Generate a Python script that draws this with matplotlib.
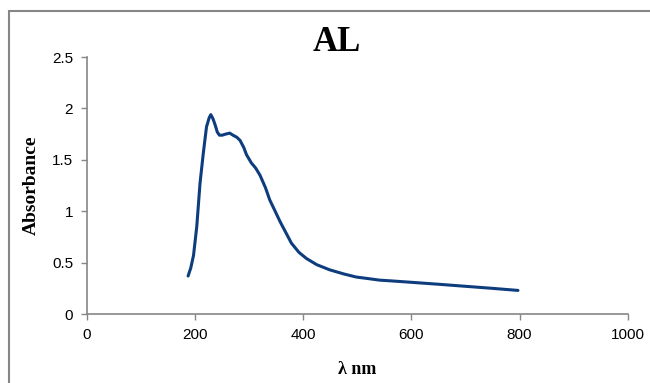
import matplotlib
matplotlib.use("Agg")
import matplotlib.pyplot as plt
from matplotlib.patches import Rectangle

# absorbance spectrum
wavelength = [187, 192, 197, 203, 209, 215, 221, 226, 229, 233, 237, 241, 245, 250,
              256, 264, 270, 277, 283, 290, 295, 304, 312, 320, 330, 338, 348, 357, 368,
              378, 392, 406, 425, 449, 475, 498, 520, 541, 570, 597, 650, 700, 750, 797]
absorbance = [0.37, 0.45, 0.57, 0.85, 1.27, 1.56, 1.82, 1.91, 1.94, 1.90, 1.84, 1.77, 1.74, 1.74,
              1.75, 1.76, 1.74, 1.72, 1.69, 1.62, 1.55, 1.47, 1.42, 1.35, 1.23, 1.11, 1.00, 0.90, 0.79,
              0.69, 0.60, 0.54, 0.48, 0.43, 0.39, 0.36, 0.345, 0.33, 0.32, 0.31, 0.29, 0.27, 0.25, 0.23]

xticks = [0, 200, 400, 600, 800, 1000]
yticks = [0, 0.5, 1, 1.5, 2, 2.5]
ytick_labels = ["0", "0.5", "1", "1.5", "2", "2.5"]

fig = plt.figure(figsize=(6.5, 3.83), dpi=100)
ax = fig.add_axes([0.1338, 0.180, 0.832, 0.671])

ax.plot(wavelength, absorbance, color="#0e3d7e", linewidth=2.2, solid_capstyle="round")

ax.set_xlim(0, 1000)
ax.set_ylim(0, 2.5)
ax.set_xticks(xticks)
ax.set_yticks(yticks)
ax.set_yticklabels(ytick_labels)

for side in ["top", "right"]:
    ax.spines[side].set_visible(False)
for side in ["left", "bottom"]:
    ax.spines[side].set_color("#868686")
    ax.spines[side].set_linewidth(1.2)

ax.tick_params(axis="both", direction="out", length=4, width=1, color="#868686",
               labelsize=11, pad=6)
for lbl in ax.get_xticklabels() + ax.get_yticklabels():
    lbl.set_fontfamily("Liberation Sans")

ax.set_xlabel("λ nm", fontfamily="Liberation Serif", fontweight="bold", fontsize=13, labelpad=14)
ax.set_ylabel("Absorbance", fontfamily="Liberation Serif", fontweight="bold", fontsize=14, labelpad=9)

fig.text(0.518, 0.89, "AL", fontfamily="Liberation Serif", fontweight="bold",
         fontsize=25, ha="center", va="center")

# outer chart frame
fig.patches.append(Rectangle((0.0138, -0.1), 1.2, 0.971 + 0.1, transform=fig.transFigure,
                             fill=False, edgecolor="#868686", linewidth=1.5))

fig.savefig("out.png", dpi=100)
